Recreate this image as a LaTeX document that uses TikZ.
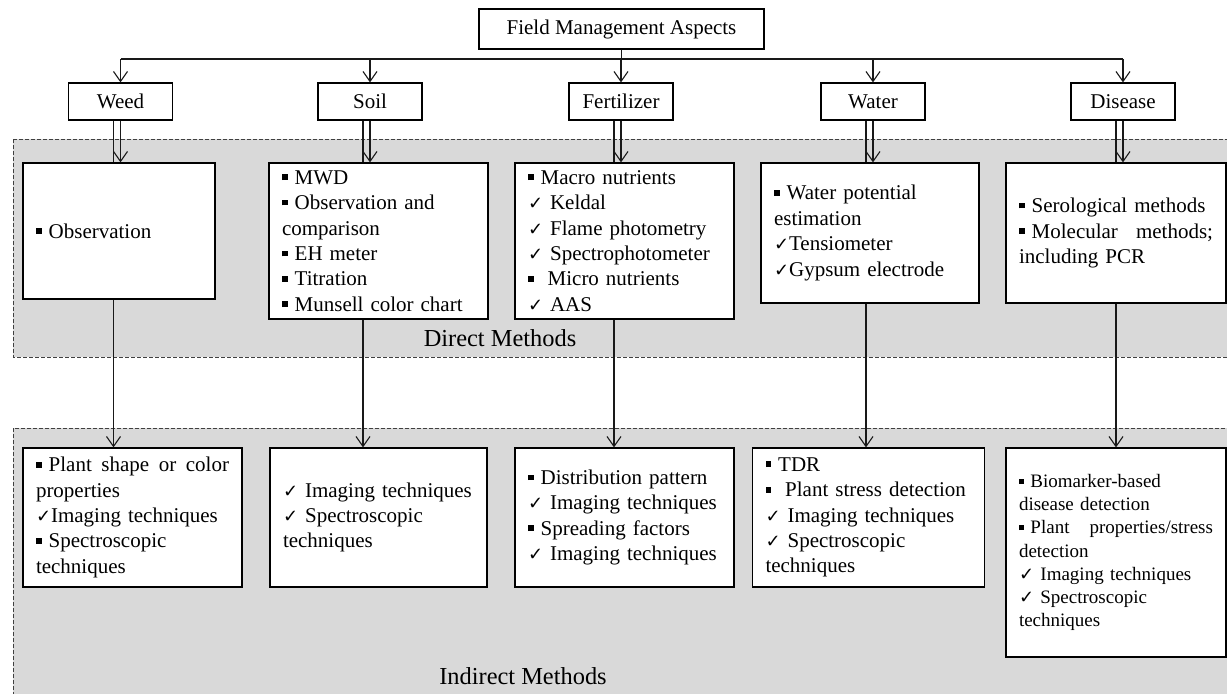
\documentclass[tikz,border=0pt]{standalone}
\usepackage{fontspec}
\setmainfont{Liberation Serif}
\newfontfamily\checkfont{DejaVu Sans}
\usetikzlibrary{arrows.meta}
\definecolor{regiongray}{HTML}{D9D9D9}
\newcommand{\sqb}{\raisebox{0.2em}{\rule{0.27em}{0.27em}}}
\newcommand{\ckm}{{\checkfont\fontsize{9}{9}\selectfont ✓}}
\newcommand{\wordfill}{\hskip 0pt plus 1filll\relax}

\begin{document}
\begin{tikzpicture}[x=0.5pt, y=-0.5pt, font=\fontsize{10.5}{12.7}\selectfont,
    aspect/.style={draw, line width=0.6pt, fill=white, minimum width=52pt, minimum height=18.5pt, inner sep=1pt},
    method/.style={draw, line width=0.6pt, fill=white, align=left, inner xsep=6.5pt, inner ysep=2pt},
    region/.style={fill=regiongray, draw=black!75, line width=0.4pt, dash pattern=on 2pt off 1pt},
    link/.style={line width=0.55pt, draw=black!90},
    arr/.style={link, -{Straight Barb[length=5pt, width=7pt]}}]
  \useasboundingbox (0,0) rectangle (1227,693);

  % direct / indirect regions
  \draw[region] (13,139) rectangle (1240,357);
  \draw[region] (13,428) rectangle (1240,710);
  \node[font=\fontsize{12.2}{14}\selectfont] (dirlab) at (500,338) {Direct Methods};
  \node[font=\fontsize{12.2}{14}\selectfont] (indlab) at (523,676) {Indirect Methods};

  % aspects
  \node[aspect, minimum width=142.5pt, minimum height=20pt] (fma) at (621.5,29) {Field Management Aspects};
  \node[aspect] (weed) at (120.5,101.5) {Weed};
  \node[aspect] (soil) at (370,101.5) {Soil};
  \node[aspect] (fert) at (621,101.5) {Fertilizer};
  \node[aspect] (water) at (873,101.5) {Water};
  \node[aspect] (dis) at (1123,101.5) {Disease};

  % direct methods
  \node[method, text width=83pt, minimum height=68pt] (dweed) at (119,231) {\sqb\ Observation};
  \node[method, text width=96.5pt, minimum height=78pt] (dsoil) at (378.5,241)
    {\sqb\ MWD\\ \sqb\ Observation and\\ comparison\\ \sqb\ EH meter\\ \sqb\ Titration\\ \sqb\ Munsell color chart};
  \node[method, text width=96.5pt, minimum height=78pt] (dfert) at (624.5,241)
    {\sqb\ Macro nutrients\\ \ckm\ Keldal\\ \ckm\ Flame photometry\\ \ckm\ Spectrophotometer\\ \sqb\ \ Micro nutrients\\ \ckm\ AAS};
  \node[method, text width=96pt, minimum height=70pt] (dwater) at (870,233)
    {\sqb\ Water potential\\ estimation\\ \ckm Tensiometer\\ \ckm Gypsum electrode};
  \node[method, text width=97pt, minimum height=70pt] (ddis) at (1116,233)
    {\sqb\ Serological methods\\ \sqb\ Molecular\wordfill methods;\\ including PCR};

  % indirect methods
  \node[method, text width=96.5pt, minimum height=69.5pt] (iweed) at (132.5,517.5)
    {\sqb\ Plant\wordfill shape\wordfill or\wordfill color\\ properties\\ \ckm Imaging techniques\\ \sqb\ Spectroscopic\\ techniques};
  \node[method, text width=95.5pt, minimum height=69.5pt] (isoil) at (378.5,517.5)
    {\ckm\ Imaging techniques\\ \ckm\ Spectroscopic\\ techniques};
  \node[method, text width=96.5pt, minimum height=69.5pt] (ifert) at (624.5,517.5)
    {\sqb\ Distribution pattern\\ \ckm\ Imaging techniques\\ \sqb\ Spreading factors\\ \ckm\ Imaging techniques};
  \node[method, text width=103pt, minimum height=69.5pt] (iwater) at (868.5,517.5)
    {\sqb\ TDR\\ \sqb\ \ Plant stress detection\\ \ckm\ Imaging techniques\\ \ckm\ Spectroscopic\\ techniques};
  \node[method, text width=97pt, minimum height=104.5pt, font=\fontsize{9.5}{11.6}\selectfont] (idis) at (1116,552.5)
    {\sqb\ Biomarker-based\\ disease detection\\ \sqb\ Plant\wordfill properties/stress\\ detection\\ \ckm\ Imaging techniques\\ \ckm\ Spectroscopic\\ techniques};

  % connectors
  \coordinate (bus) at (621.5,59);
  \draw[link] (fma) -- (bus);
  \draw[link] (bus -| weed) -- (bus -| dis);
  \foreach \a/\d/\i in {weed/dweed/iweed, soil/dsoil/isoil, fert/dfert/ifert, water/dwater/iwater, dis/ddis/idis} {
    \draw[arr] (bus -| \a) -- (\a);
    \draw[link] ([xshift=-3.5pt]\a.south) -- ([xshift=-3.5pt]\a.south |- \d.north);
    \draw[arr] (\a.south) -- (\a.south |- \d.north);
    \draw[arr] ([xshift=-3.5pt]\a.south |- \d.south) -- ([xshift=-3.5pt]\a.south |- \i.north);
  }
\end{tikzpicture}
\end{document}
